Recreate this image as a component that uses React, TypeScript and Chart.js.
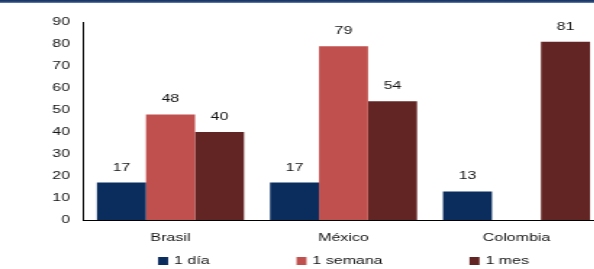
import React, { useEffect, useRef } from "react";
import { Chart, registerables } from "chart.js";

Chart.register(...registerables);

const categories = ["Brasil", "México", "Colombia"];
const seriesNames = ["1 día", "1 semana", "1 mes"];
const diaValues = [17, 17, 13];
const semanaValues: (number | null)[] = [48, 79, null];
const mesValues = [40, 54, 81];
const seriesColors = ["#0B2D5E", "#C0504D", "#632523"];
const yMin = 0;
const yMax = 90;
const yStep = 10;

const STRETCH = 1.45;
const CSS_W = 603;
const W = Math.round(CSS_W / STRETCH);
const H = 269;
const TEXT = "#141414";
const FONT = '11px "Liberation Sans", Arial, sans-serif';

const valueLabels = {
  id: "valueLabels",
  afterDatasetsDraw(chart: any) {
    const ctx = chart.ctx;
    ctx.save();
    ctx.font = FONT;
    ctx.fillStyle = TEXT;
    ctx.textAlign = "center";
    ctx.textBaseline = "middle";
    chart.data.datasets.forEach((ds: any, i: number) => {
      const meta = chart.getDatasetMeta(i);
      meta.data.forEach((bar: any, j: number) => {
        const v = ds.data[j];
        if (v === null || v === undefined) return;
        ctx.fillText(String(v), bar.x, bar.y - 15);
      });
    });
    ctx.restore();
  },
};

const bottomLegend = {
  id: "bottomLegend",
  afterDraw(chart: any) {
    const ctx = chart.ctx;
    const { left, right } = chart.chartArea;
    ctx.save();
    ctx.font = FONT;
    const box = 10 / STRETCH;
    const gapText = 6 / STRETCH;
    const itemGap = 87 / STRETCH;
    const items = chart.data.datasets.map((ds: any) => ({
      label: ds.label,
      color: ds.backgroundColor,
      w: box + gapText + ctx.measureText(ds.label).width,
    }));
    const total =
      items.reduce((s: number, it: any) => s + it.w, 0) + itemGap * (items.length - 1);
    let x = (left + right) / 2 - total / 2;
    const y = 261;
    ctx.textAlign = "left";
    ctx.textBaseline = "middle";
    items.forEach((it: any) => {
      ctx.fillStyle = it.color;
      ctx.fillRect(x, y - 4, box, 8);
      ctx.fillStyle = TEXT;
      ctx.fillText(it.label, x + box + gapText, y);
      x += it.w + itemGap;
    });
    ctx.restore();
  },
};

export default function App() {
  const canvasRef = useRef<HTMLCanvasElement | null>(null);

  useEffect(() => {
    document.body.style.margin = "0";
    const canvas = canvasRef.current;
    if (!canvas) return;
    const data = [diaValues, semanaValues, mesValues];
    const chart = new Chart(canvas, {
      type: "bar",
      data: {
        labels: categories,
        datasets: seriesNames.map((name, i) => ({
          label: name,
          data: data[i] as any,
          backgroundColor: seriesColors[i],
          borderWidth: 0,
          categoryPercentage: 0.85,
          barPercentage: 1,
        })),
      },
      options: {
        responsive: false,
        animation: false,
        devicePixelRatio: 1,
        layout: { padding: { top: 22, right: 0, bottom: 13, left: 0 } },
        plugins: {
          legend: { display: false },
          tooltip: { enabled: false },
          title: { display: false },
        },
        scales: {
          x: {
            grid: { display: false, drawTicks: false },
            border: { display: true, color: "#000000", width: 1 },
            ticks: {
              color: TEXT,
              font: { family: '"Liberation Sans", Arial, sans-serif', size: 11 },
              padding: 11.4,
              maxRotation: 0,
            },
          },
          y: {
            min: yMin,
            max: yMax,
            grid: { display: false, drawTicks: false },
            border: { display: true, color: "#000000", width: 1 },
            ticks: {
              stepSize: yStep,
              color: TEXT,
              font: { family: '"Liberation Sans", Arial, sans-serif', size: 11 },
              padding: 14 / STRETCH,
            },
            afterFit(scale: any) {
              scale.width = 84 / STRETCH;
            },
          },
        },
      },
      plugins: [valueLabels, bottomLegend],
    });
    return () => chart.destroy();
  }, []);

  return (
    <div
      style={{
        position: "relative",
        width: 594,
        height: 269,
        overflow: "hidden",
        background: "#ffffff",
      }}
    >
      <canvas
        ref={canvasRef}
        width={W}
        height={H}
        style={{
          position: "absolute",
          left: 0,
          top: 0,
          width: `${W * STRETCH}px`,
          height: `${H}px`,
        }}
      />
      <div
        style={{
          position: "absolute",
          left: 0,
          top: 0,
          width: "100%",
          height: 3,
          background: "linear-gradient(#17305a 0%, #2c4a7c 60%, #7390ba 100%)",
        }}
      />
    </div>
  );
}
